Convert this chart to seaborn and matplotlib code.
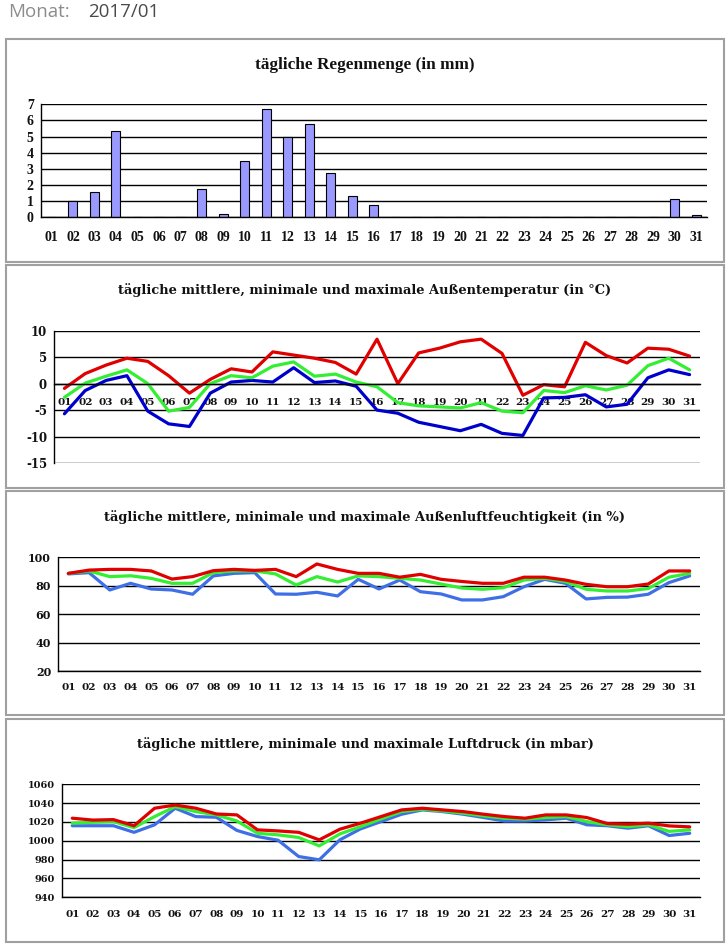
import numpy as np
import pandas as pd
import matplotlib
matplotlib.use('Agg')
import matplotlib.pyplot as plt
from matplotlib.patches import Rectangle
import seaborn as sns

sns.set_theme(style='white')
plt.rcParams['axes.unicode_minus'] = False

# --- Daten (Januar 2017) ---
tage = [f'{d:02d}' for d in range(1, 32)]

regen = [0, 1.0, 1.55, 5.35, 0, 0, 0, 1.75, 0.2, 3.47, 6.68, 4.97, 5.77, 2.72, 1.3,
         0.76, 0, 0, 0, 0, 0, 0, 0, 0, 0, 0, 0, 0, 0, 1.13, 0.14]

temp_max = [-0.9, 1.9, 3.5, 4.8, 4.2, 1.5, -1.8, 0.8, 2.8, 2.2, 6.0, 5.4, 4.8, 4.0, 1.8,
            8.4, 0.0, 5.8, 6.7, 7.9, 8.4, 5.7, -2.2, -0.2, -0.6, 7.8, 5.3, 3.9, 6.7, 6.5, 5.2]
temp_mittel = [-2.6, 0.1, 1.4, 2.6, 0.0, -5.2, -4.5, 0.0, 1.5, 1.1, 3.3, 4.1, 1.4, 1.8, 0.3,
               -0.6, -3.6, -4.2, -4.4, -4.6, -3.6, -5.2, -5.5, -1.3, -1.7, -0.4, -1.2, -0.3, 3.4, 4.8, 2.6]
temp_min = [-5.7, -1.3, 0.6, 1.5, -5.2, -7.6, -8.1, -1.8, 0.3, 0.6, 0.3, 3.0, 0.2, 0.5, -0.5,
            -5.0, -5.6, -7.3, -8.1, -8.9, -7.7, -9.4, -9.8, -2.7, -2.6, -2.1, -4.4, -3.9, 1.1, 2.6, 1.7]

feuchte_max = [88.7, 91.0, 91.5, 91.5, 90.4, 84.7, 86.4, 90.6, 91.5, 90.8, 91.5, 86.4, 95.3, 91.5, 88.7,
               88.7, 86.0, 88.0, 84.5, 83.0, 81.7, 81.7, 86.0, 86.0, 84.0, 81.0, 79.3, 79.3, 81.2, 90.4, 90.4]
feuchte_mittel = [88.7, 90.4, 86.4, 87.0, 85.2, 81.7, 81.7, 89.2, 90.4, 90.4, 88.3, 80.5, 86.4, 82.6, 86.9,
                  86.4, 85.2, 84.0, 81.2, 78.4, 77.5, 78.6, 84.0, 85.2, 82.9, 77.5, 76.3, 76.3, 78.0, 86.0, 88.7]
feuchte_min = [88.3, 89.2, 77.0, 81.7, 77.7, 77.0, 74.0, 86.9, 88.7, 89.2, 74.2, 74.0, 75.4, 72.8, 84.5,
               77.7, 84.0, 75.8, 74.2, 70.0, 70.0, 72.3, 79.3, 84.5, 81.7, 70.7, 71.8, 72.0, 74.0, 82.2, 86.9]

druck_max = [1024, 1022, 1022.5, 1016, 1034.6, 1038, 1034.6, 1028.5, 1027.5, 1011.6, 1010.5, 1009, 1001,
             1012.3, 1018.7, 1025.7, 1032.8, 1034.6, 1032.8, 1031, 1028.2, 1025.7, 1024, 1027.5, 1027.5,
             1024.7, 1018.3, 1017.6, 1018.7, 1015.8, 1014.8]
druck_mittel = [1018.7, 1019.7, 1020.4, 1014, 1025.7, 1036.3, 1031, 1027.5, 1021, 1008, 1006.3, 1003.5, 994.6,
                1007.3, 1015, 1023.2, 1031, 1033.5, 1031.7, 1029.3, 1026.4, 1024, 1023, 1024.7, 1025.7,
                1020.4, 1017, 1015, 1017, 1010, 1011.6]
druck_min = [1016, 1016, 1016, 1009, 1017, 1034.6, 1025.7, 1025, 1011, 1004.5, 1000.6, 983.3, 979.8,
             1001, 1012.6, 1020.4, 1028.2, 1032.8, 1031, 1028.2, 1024.7, 1021, 1021, 1022.2, 1024,
             1017, 1016, 1013.4, 1016, 1005.6, 1008]

ROT = '#e00000'
GRUEN = '#33ee33'
BLAU_DUNKEL = '#0000cc'
BLAU_HELL = '#3f6fe6'

W, H = 728, 947
fig = plt.figure(figsize=(W / 100, H / 100), dpi=100)


def px_rect(x0, y0, x1, y1):
    return [x0 / W, 1 - y1 / H, (x1 - x0) / W, (y1 - y0) / H]


def rahmen(y0, y1):
    fig.patches.append(Rectangle((6 / W, 1 - y1 / H), (724 - 6) / W, (y1 - y0) / H,
                                 transform=fig.transFigure, fill=False,
                                 edgecolor='#a0a0a0', linewidth=1.5))


def titel(y, text, family, size):
    fig.text(365 / W, 1 - y / H, text, ha='center', va='center',
             family=family, weight='bold', fontsize=size, color='#111111')


def achse_stil(ax, family, ysize, xsize, tick_dir='out', xpad=9):
    ax.set_xlim(-0.5, 30.5)
    ax.grid(axis='y', color='black', linewidth=1.0)
    ax.grid(axis='x', visible=False)
    ax.set_axisbelow(True)
    for s in ['top', 'right']:
        ax.spines[s].set_visible(False)
    for s in ['left', 'bottom']:
        ax.spines[s].set_color('black')
        ax.spines[s].set_linewidth(1.0)
    ax.set_xticks(range(31))
    ax.set_xticklabels(tage)
    ax.set_xticks(np.arange(-0.5, 31, 1), minor=True)
    ax.tick_params(axis='x', which='major', length=0, pad=xpad, labelsize=xsize)
    ax.tick_params(axis='x', which='minor', length=4, width=1, color='black', direction=tick_dir)
    ax.tick_params(axis='y', which='major', length=3, width=1, color='black',
                   direction='out', pad=2, labelsize=ysize)
    for lab in ax.get_xticklabels() + ax.get_yticklabels():
        lab.set_family(family)
        lab.set_weight('bold')
        lab.set_color('#111111')
    ax.set_xlabel('')
    ax.set_ylabel('')


def linien(ax, maxi, mittel, mini, blau):
    df = pd.DataFrame({'Tag': np.arange(31), 'Min': mini, 'Mittel': mittel, 'Max': maxi})
    df = df.melt(id_vars='Tag', var_name='Reihe', value_name='Wert')
    sns.lineplot(data=df, x='Tag', y='Wert', hue='Reihe', ax=ax,
                 palette={'Min': blau, 'Mittel': GRUEN, 'Max': ROT},
                 hue_order=['Min', 'Mittel', 'Max'], linewidth=2.3, legend=False)


# Kopfzeile
fig.text(8 / W, 1 - 12 / H, 'Monat:', family='Open Sans', fontsize=13.5, color='#8c8c8c', va='center')
fig.text(88 / W, 1 - 12 / H, '2017/01', family='Open Sans', fontsize=13.5, color='#4a4a4a', va='center')

# Rahmen
rahmen(39, 262)
rahmen(265.5, 488)
rahmen(491, 715)
rahmen(719, 942)

# 1) Regen
ax1 = fig.add_axes(px_rect(40.7, 104.3, 707, 217.3))
sns.barplot(x=tage, y=regen, color='#9999ff', edgecolor='black', linewidth=0.8,
            width=0.42, saturation=1, ax=ax1)
ax1.set_ylim(0, 7)
ax1.set_yticks(range(0, 8))
achse_stil(ax1, 'Liberation Serif', 10, 10, xpad=10)
titel(65, 'tägliche Regenmenge (in mm)', 'Liberation Serif', 12.4)

# 2) Temperatur
ax2 = fig.add_axes(px_rect(54, 330.7, 700, 463))
linien(ax2, temp_max, temp_mittel, temp_min, BLAU_DUNKEL)
ax2.set_ylim(-15, 10)
ax2.set_yticks(range(-15, 11, 5))
ax2.spines['bottom'].set_position(('data', 0))
achse_stil(ax2, 'DejaVu Serif', 8.5, 7.5, tick_dir='inout', xpad=10)
titel(290, 'tägliche mittlere, minimale und maximale Außentemperatur (in °C)', 'DejaVu Serif', 9.35)

# 3) Luftfeuchtigkeit
ax3 = fig.add_axes(px_rect(58, 557.3, 700, 671))
linien(ax3, feuchte_max, feuchte_mittel, feuchte_min, BLAU_HELL)
ax3.set_ylim(20, 100)
ax3.set_yticks(range(20, 101, 20))
achse_stil(ax3, 'DejaVu Serif', 8, 7.5)
titel(517, 'tägliche mittlere, minimale und maximale Außenluftfeuchtigkeit (in %)', 'DejaVu Serif', 9.4)

# 4) Luftdruck
ax4 = fig.add_axes(px_rect(62, 784.3, 700, 897.3))
linien(ax4, druck_max, druck_mittel, druck_min, BLAU_HELL)
ax4.set_ylim(940, 1060)
ax4.set_yticks(range(940, 1061, 20))
achse_stil(ax4, 'DejaVu Serif', 7, 7.5)
titel(744, 'tägliche mittlere, minimale und maximale Luftdruck (in mbar)', 'DejaVu Serif', 9.4)

fig.savefig('out.png', dpi=100, facecolor='white')
